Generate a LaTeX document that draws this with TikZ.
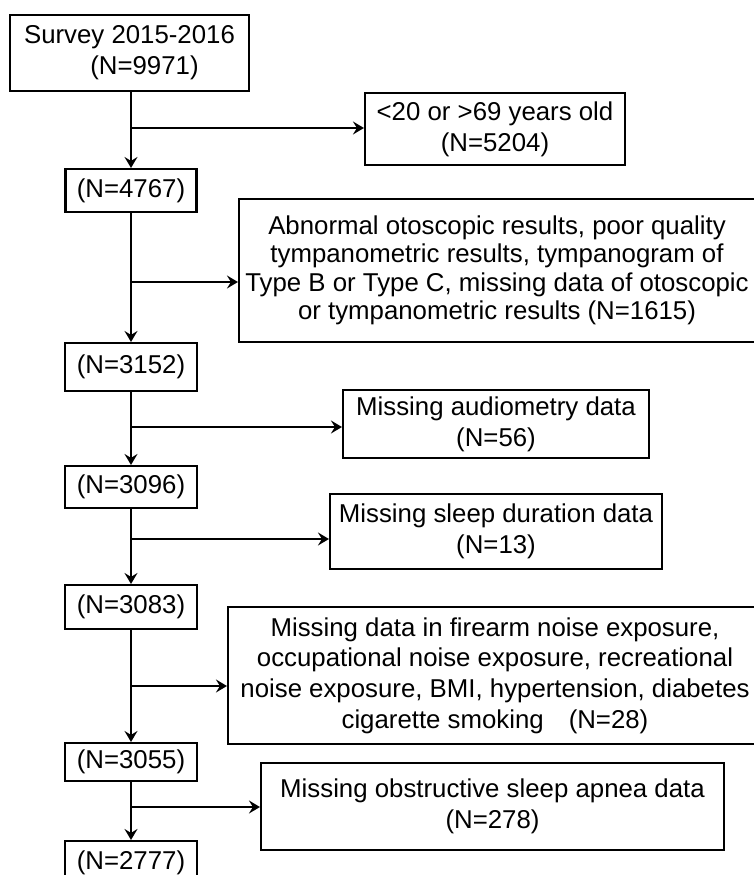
\documentclass[tikz,border=0pt]{standalone}
\usepackage{fontspec}
\setmainfont{Liberation Sans}
\usetikzlibrary{arrows.meta}
\begin{document}
\begin{tikzpicture}[x=1pt,y=-1pt,
  box/.style={draw, line width=2.1pt, inner sep=0pt, align=center,
    font=\fontsize{25.8}{31}\selectfont},
  arr/.style={line width=2.1pt, -{Stealth[length=11pt,width=13pt,inset=4pt]}},
  ln/.style={line width=2.1pt}]
\useasboundingbox (0,0) rectangle (753,875);
\fill[white] (0,0) rectangle (753,875);

\node[box, minimum width=239pt, minimum height=76pt] (survey) at (129.5,53)
  {Survey 2015-2016\\\hspace*{30pt}(N=9971)};
\node[box, minimum width=260pt, minimum height=72pt] (b5204) at (495,129)
  {<20 or >69 years old\\(N=5204)};
\node[box, minimum width=131pt, minimum height=43pt] (n4767) at (131,190.5) {(N=4767)};
\node[box, minimum width=516pt, minimum height=143pt,
  font=\fontsize{25.8}{28.5}\selectfont] (abn) at (497,270.5)
  {Abnormal otoscopic results, poor quality\\
   tympanometric results, tympanogram of\\
   Type B or Type C, missing data of otoscopic\\
   or tympanometric results (N=1615)};
\node[box, minimum width=132pt, minimum height=48pt] (n3152) at (131,367) {(N=3152)};
\node[box, minimum width=306pt, minimum height=68pt] (aud) at (496,424)
  {Missing audiometry data\\(N=56)};
\node[box, minimum width=132pt, minimum height=42pt] (n3096) at (131,487) {(N=3096)};
\node[box, minimum width=332pt, minimum height=75pt] (sleep) at (496,531.5)
  {Missing sleep duration data\\(N=13)};
\node[box, minimum width=132pt, minimum height=44pt] (n3083) at (131,607) {(N=3083)};
\node[box, minimum width=534pt, minimum height=137pt,
  font=\fontsize{25.8}{30.7}\selectfont] (fire) at (495,675.5)
  {Missing data in firearm noise exposure,\\
   occupational noise exposure, recreational\\
   noise exposure, BMI, hypertension, diabetes\\
   cigarette smoking\hspace{25pt}(N=28)};
\node[box, minimum width=132pt, minimum height=38pt] (n3055) at (131,762) {(N=3055)};
\node[box, minimum width=463pt, minimum height=87pt] (osa) at (492.5,806.5)
  {Missing obstructive sleep apnea data\\(N=278)};
\node[box, minimum width=132pt, minimum height=44pt] (n2777) at (131,863) {(N=2777)};

% vertical flow
\draw[arr] (survey.south -| n4767.north) -- (n4767.north);
\draw[arr] (n4767.south) -- (n3152.north);
\draw[arr] (n3152.south) -- (n3096.north);
\draw[arr] (n3096.south) -- (n3083.north);
\draw[arr] (n3083.south) -- (n3055.north);
\draw[arr] (n3055.south) -- (n2777.north);

% branches
\coordinate (j1) at (131,128);
\coordinate (j2) at (131,282);
\coordinate (j3) at (131,427);
\coordinate (j4) at (131,539);
\coordinate (j5) at (131,686);
\coordinate (j6) at (131,807);
\draw[arr] (j1) -- (j1 -| b5204.west);
\draw[arr] (j2) -- (j2 -| abn.west);
\draw[arr] (j3) -- (j3 -| aud.west);
\draw[arr] (j4) -- (j4 -| sleep.west);
\draw[arr] (j5) -- (j5 -| fire.west);
\draw[arr] (j6) -- (j6 -| osa.west);
\end{tikzpicture}
\end{document}
